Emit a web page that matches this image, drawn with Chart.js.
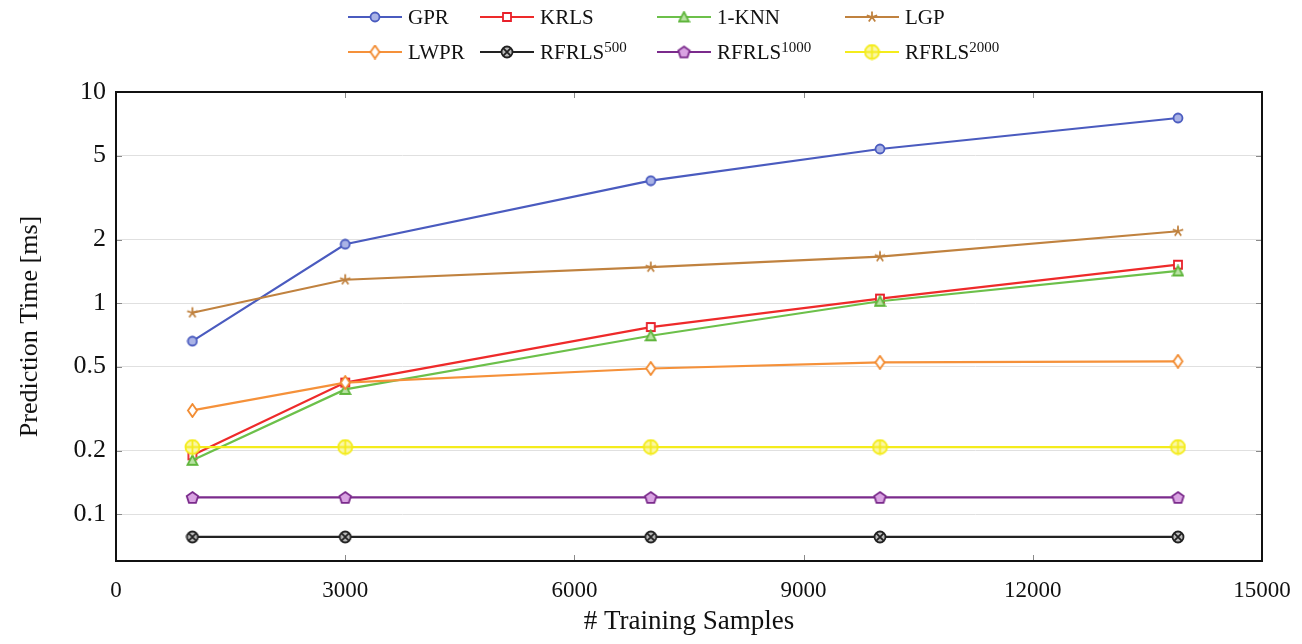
<!DOCTYPE html>
<html>
<head>
<meta charset="utf-8">
<script src="https://cdn.jsdelivr.net/npm/chart.js@4.4.0/dist/chart.umd.min.js"></script>
<style>
    html, body { margin: 0; padding: 0; background: #fff; }
    #wrap { position: relative; width: 1302px; height: 644px; }
    #legend { position: absolute; left: 0; top: 0; width: 1302px; height: 70px;
              font-family: "Liberation Serif", serif; font-size: 21px; color: #111; }
    .item { position: absolute; display: flex; align-items: center; height: 26px; white-space: nowrap; }
    .item canvas { margin-right: 6px; }
    sup { font-size: 15px; vertical-align: 0.45em; line-height: 0; }
</style>
</head>
<body>
<div id="wrap">
    <canvas id="timeChart" width="1302" height="644"></canvas>
    <div id="legend"></div>
</div>
<script>
// training set sizes
const samples = [1000, 3000, 7000, 10000, 13900];

// prediction time in ms
const gpr = [0.66, 1.90, 3.80, 5.37, 7.53];
const krls = [0.19, 0.42, 0.77, 1.05, 1.52];
const knn = [0.18, 0.39, 0.70, 1.02, 1.42];
const lgp = [0.90, 1.29, 1.48, 1.66, 2.19];
const lwpr = [0.31, 0.42, 0.49, 0.524, 0.53];
const rfrls500 = [0.078, 0.078, 0.078, 0.078, 0.078];
const rfrls1000 = [0.12, 0.12, 0.12, 0.12, 0.12];
const rfrls2000 = [0.208, 0.208, 0.208, 0.208, 0.208];

const xTicks = [0, 3000, 6000, 9000, 12000, 15000];
const yTicks = [0.1, 0.2, 0.5, 1, 2, 5, 10];

// draws a pgfplots-like marker onto a small canvas
function marker(kind, stroke, fill, s) {
    const c = document.createElement('canvas');
    c.width = c.height = s;
    const g = c.getContext('2d');
    const m = s / 2;
    const r = m - 1.5;
    g.lineWidth = 1.8;
    g.strokeStyle = stroke;
    g.fillStyle = fill;
    g.beginPath();
    if (kind === 'circle' || kind === 'otimes' || kind === 'oplus') {
        g.arc(m, m, r, 0, Math.PI * 2);
    } else if (kind === 'square') {
        g.rect(m - r + 0.5, m - r + 0.5, 2 * r - 1, 2 * r - 1);
    } else if (kind === 'triangle') {
        g.moveTo(m, 1.5);
        g.lineTo(s - 1.5, s - 2);
        g.lineTo(1.5, s - 2);
        g.closePath();
    } else if (kind === 'diamond') {
        g.moveTo(m, 1);
        g.lineTo(m + r * 0.75, m);
        g.lineTo(m, s - 1);
        g.lineTo(m - r * 0.75, m);
        g.closePath();
    } else if (kind === 'pentagon') {
        for (let i = 0; i < 5; i++) {
            const a = -Math.PI / 2 + i * 2 * Math.PI / 5;
            const px = m + r * Math.cos(a), py = m + 0.5 + r * Math.sin(a);
            if (i === 0) g.moveTo(px, py); else g.lineTo(px, py);
        }
        g.closePath();
    }
    if (kind === 'star') {
        for (let i = 0; i < 5; i++) {
            const a = -Math.PI / 2 + i * 2 * Math.PI / 5;
            g.moveTo(m, m);
            g.lineTo(m + r * Math.cos(a), m + r * Math.sin(a));
        }
        g.stroke();
        return c;
    }
    g.fill();
    g.stroke();
    if (kind === 'otimes') {
        const d = r * 0.7;
        g.beginPath();
        g.moveTo(m - d, m - d); g.lineTo(m + d, m + d);
        g.moveTo(m + d, m - d); g.lineTo(m - d, m + d);
        g.stroke();
    } else if (kind === 'oplus') {
        g.beginPath();
        g.moveTo(m, m - r); g.lineTo(m, m + r);
        g.moveTo(m - r, m); g.lineTo(m + r, m);
        g.stroke();
    }
    return c;
}

const series = [
    { label: 'GPR', data: gpr, color: '#4a5bbf', mark: marker('circle', '#4a5bbf', '#aab3e6', 12) },
    { label: 'KRLS', data: krls, color: '#ee2a2a', mark: marker('square', '#e8202a', '#ffffff', 12) },
    { label: '1-KNN', data: knn, color: '#6cc04a', mark: marker('triangle', '#5fb53c', '#b9e2a4', 13) },
    { label: 'LGP', data: lgp, color: '#c0823f', mark: marker('star', '#c0823f', '#c0823f', 14) },
    { label: 'LWPR', data: lwpr, color: '#f5913a', mark: marker('diamond', '#f28a2e', '#ffffff', 15) },
    { label: 'RFRLS', sup: '500', data: rfrls500, color: '#222222', mark: marker('otimes', '#222222', '#bbbbbb', 14) },
    { label: 'RFRLS', sup: '1000', data: rfrls1000, color: '#7b2b8c', mark: marker('pentagon', '#7b2b8c', '#d9a3e2', 15) },
    { label: 'RFRLS', sup: '2000', data: rfrls2000, color: '#f4ec1c', mark: marker('oplus', '#f4ec1c', '#fbf7a6', 17) }
];

// legend (two rows, four columns like the pgfplots legend)
const colLeft = [348, 480, 657, 845];
const rowMid = [17, 52];
const legend = document.getElementById('legend');
series.forEach((s, i) => {
    const item = document.createElement('div');
    item.className = 'item';
    item.style.left = colLeft[i % 4] + 'px';
    item.style.top = (rowMid[Math.floor(i / 4)] - 13) + 'px';
    const sample = document.createElement('canvas');
    sample.width = 54; sample.height = 20;
    const g = sample.getContext('2d');
    g.strokeStyle = s.color; g.lineWidth = 2.2;
    g.beginPath(); g.moveTo(0, 10); g.lineTo(54, 10); g.stroke();
    g.drawImage(s.mark, 27 - s.mark.width / 2, 10 - s.mark.height / 2);
    item.appendChild(sample);
    const text = document.createElement('span');
    text.innerHTML = s.label + (s.sup ? '<sup>' + s.sup + '</sup>' : '');
    item.appendChild(text);
    legend.appendChild(item);
});

// frame around the plot and small inward ticks
const framePlugin = {
    id: 'frame',
    beforeDatasetsDraw(chart) {
        const { ctx, chartArea: a, scales } = chart;
        ctx.save();
        ctx.strokeStyle = '#8a8a8a';
        ctx.lineWidth = 1;
        ctx.beginPath();
        xTicks.forEach(v => {
            const x = Math.round(scales.x.getPixelForValue(v)) + 0.5;
            ctx.moveTo(x, a.bottom); ctx.lineTo(x, a.bottom - 6);
            ctx.moveTo(x, a.top); ctx.lineTo(x, a.top + 6);
        });
        yTicks.forEach(v => {
            const y = Math.round(scales.y.getPixelForValue(v)) + 0.5;
            ctx.moveTo(a.left, y); ctx.lineTo(a.left + 6, y);
            ctx.moveTo(a.right, y); ctx.lineTo(a.right - 6, y);
        });
        ctx.stroke();
        ctx.restore();
    },
    afterDraw(chart) {
        const { ctx, chartArea: a } = chart;
        ctx.save();
        ctx.strokeStyle = '#111';
        ctx.lineWidth = 2;
        ctx.strokeRect(a.left, a.top, a.right - a.left, a.bottom - a.top);
        ctx.restore();
    }
};

Chart.defaults.font.family = '"Liberation Serif", serif';
Chart.defaults.color = '#111';

new Chart(document.getElementById('timeChart').getContext('2d'), {
    type: 'line',
    data: {
        datasets: series.map((s, i) => ({
            label: s.label,
            data: samples.map((x, j) => ({ x: x, y: s.data[j] })),
            borderColor: s.color,
            borderWidth: 2.2,
            pointStyle: s.mark,
            tension: 0,
            fill: false,
            order: series.length - i
        }))
    },
    options: {
        responsive: false,
        animation: false,
        layout: { padding: { top: 92, right: 40, left: 0, bottom: 0 } },
        plugins: { legend: { display: false }, tooltip: { enabled: false } },
        scales: {
            x: {
                type: 'linear',
                min: 0,
                max: 15000,
                afterBuildTicks: scale => { scale.ticks = xTicks.map(v => ({ value: v })); },
                afterFit: scale => { scale.height = 83; },
                grid: { display: false },
                border: { display: false },
                ticks: { padding: 8, font: { size: 23 }, maxRotation: 0, callback: v => String(v) },
                title: { display: true, text: '# Training Samples', font: { size: 27 }, padding: { top: 0, bottom: 6 } }
            },
            y: {
                type: 'logarithmic',
                min: 0.06,
                max: 10,
                afterBuildTicks: scale => { scale.ticks = yTicks.map(v => ({ value: v })); },
                afterFit: scale => { scale.width = 116; },
                grid: { color: '#e0e0e0', lineWidth: 1, drawTicks: false },
                border: { display: false },
                ticks: { padding: 10, font: { size: 26 }, callback: v => String(v) },
                title: { display: true, text: 'Prediction Time [ms]', font: { size: 26 }, padding: { top: 15, bottom: 0 } }
            }
        }
    },
    plugins: [framePlugin]
});
</script>
</body>
</html>
